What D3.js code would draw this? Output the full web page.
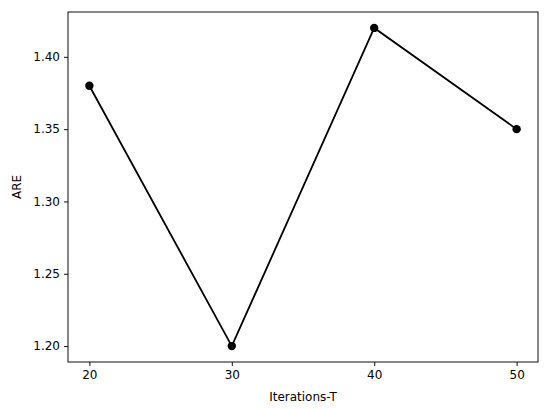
<!DOCTYPE html>
<html>
<head>
<script src="https://d3js.org/d3.v7.min.js"></script>
<style>
body { margin: 0; background: #fff; }
.axis text { font-family: "DejaVu Sans", sans-serif; font-size: 12px; fill: #000; }
.axis line { stroke: #000; stroke-width: 0.95px; }
.axis path { display: none; }
.label { font-family: "DejaVu Sans", sans-serif; font-size: 12px; fill: #000; }
</style>
</head>
<body>
<div id="chart"></div>
<script>
// data
var iterations = [20, 30, 40, 50];
var areValues = [1.38, 1.20, 1.42, 1.35];
var xTicks = [20, 30, 40, 50];
var yTicks = [1.20, 1.25, 1.30, 1.35, 1.40];

var width = 550, height = 409;
// plot area edges (note: "top" is reserved on window, so use own names)
var plotLeft = 68, plotRight = 538, plotTop = 12, plotBottom = 362;

var svg = d3.select("#chart").append("svg")
    .attr("width", width)
    .attr("height", height);

// matplotlib style 5% padding on both axes
var xMin = d3.min(iterations), xMax = d3.max(iterations);
var xPad = (xMax - xMin) * 0.05;
var x = d3.scaleLinear()
    .domain([xMin - xPad, xMax + xPad])
    .range([plotLeft, plotRight]);

var yMin = d3.min(areValues), yMax = d3.max(areValues);
var yPad = (yMax - yMin) * 0.05;
var y = d3.scaleLinear()
    .domain([yMin - yPad, yMax + yPad])
    .range([plotBottom, plotTop]);

svg.append("g")
    .attr("class", "axis")
    .attr("transform", "translate(0," + plotBottom + ")")
    .call(d3.axisBottom(x).tickValues(xTicks).tickSize(4).tickPadding(4).tickFormat(d3.format("d")));

svg.append("g")
    .attr("class", "axis")
    .attr("transform", "translate(" + plotLeft + ",0)")
    .call(d3.axisLeft(y).tickValues(yTicks).tickSize(4).tickPadding(4).tickFormat(d3.format(".2f")));

// frame
svg.append("rect")
    .attr("x", plotLeft)
    .attr("y", plotTop)
    .attr("width", plotRight - plotLeft)
    .attr("height", plotBottom - plotTop)
    .attr("fill", "none")
    .attr("stroke", "#000")
    .attr("stroke-width", 0.95);

var pts = iterations.map(function(d, i) { return [d, areValues[i]]; });

svg.append("path")
    .datum(pts)
    .attr("fill", "none")
    .attr("stroke", "#000")
    .attr("stroke-width", 1.8)
    .attr("d", d3.line().x(function(d) { return x(d[0]); }).y(function(d) { return y(d[1]); }));

svg.selectAll("circle.pt")
    .data(pts)
    .enter()
    .append("circle")
    .attr("class", "pt")
    .attr("cx", function(d) { return x(d[0]); })
    .attr("cy", function(d) { return y(d[1]); })
    .attr("r", 4.2)
    .attr("fill", "#000");

svg.append("text")
    .attr("class", "label")
    .attr("x", (plotLeft + plotRight) / 2)
    .attr("y", 401)
    .attr("text-anchor", "middle")
    .text("Iterations-T");

svg.append("text")
    .attr("class", "label")
    .attr("transform", "translate(21," + ((plotTop + plotBottom) / 2) + ") rotate(-90)")
    .attr("text-anchor", "middle")
    .text("ARE");
</script>
</body>
</html>
